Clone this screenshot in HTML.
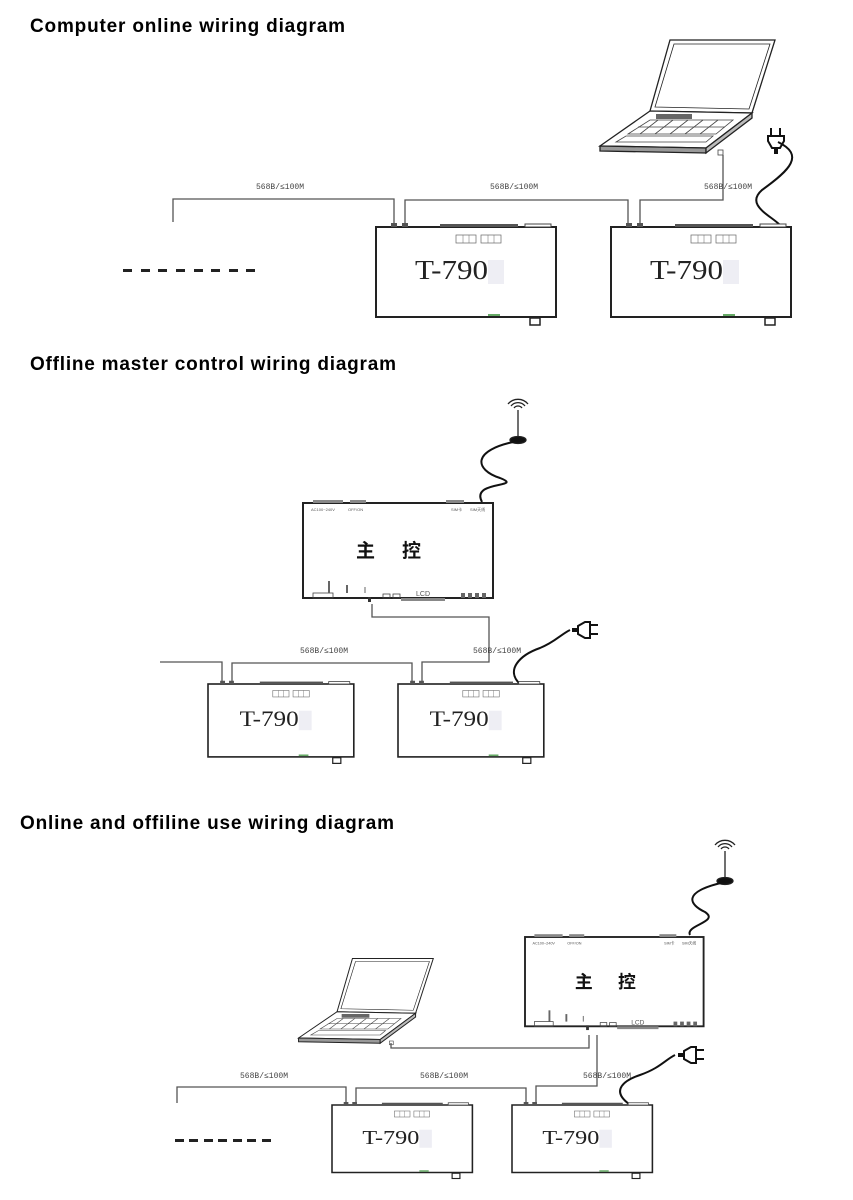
<!DOCTYPE html>
<html><head><meta charset="utf-8"><style>
html,body{margin:0;padding:0;background:#fff;}
svg{display:block;}
.t{font-family:"Liberation Sans",sans-serif;font-weight:bold;font-size:19px;fill:#000;}
.lb{font-family:"Liberation Mono",monospace;font-size:8px;fill:#444;}
.dv{font-family:"Liberation Serif",serif;font-size:27px;fill:#222;}
.zk{font-family:"Liberation Sans","Noto Sans CJK SC",sans-serif;font-size:19px;font-weight:bold;fill:#111;}
.sm{font-family:"Liberation Sans",sans-serif;font-size:4px;fill:#555;}
</style></head><body>
<svg width="853" height="1200" viewBox="0 0 853 1200" xmlns="http://www.w3.org/2000/svg">
<defs>
<g id="dev">
  <rect x="0" y="0" width="180" height="90" fill="#fff" stroke="#222" stroke-width="2"/>
  <rect x="15" y="-4" width="6" height="4" fill="#555"/>
  <rect x="26" y="-4" width="6" height="4" fill="#555"/>
  <rect x="64" y="-3" width="78" height="3" fill="#555"/>
  <rect x="149" y="-3" width="26" height="3" fill="#fff" stroke="#444" stroke-width="1"/>
  <rect x="80" y="8" width="20" height="8" fill="none" stroke="#666" stroke-width="0.7"/>
  <rect x="105" y="8" width="20" height="8" fill="none" stroke="#666" stroke-width="0.7"/>
  <line x1="87" y1="8" x2="87" y2="16" stroke="#666" stroke-width="0.5"/><line x1="93" y1="8" x2="93" y2="16" stroke="#666" stroke-width="0.5"/>
  <line x1="112" y1="8" x2="112" y2="16" stroke="#666" stroke-width="0.5"/><line x1="118" y1="8" x2="118" y2="16" stroke="#666" stroke-width="0.5"/>
  <rect x="112" y="87" width="12" height="2" fill="#6a6"/>
  <rect x="154" y="91" width="10" height="7" fill="#fff" stroke="#222" stroke-width="1.5"/>
  <rect x="112" y="33" width="16" height="24" fill="#eeeef4"/>
  <text x="39" y="52" class="dv" textLength="73" lengthAdjust="spacingAndGlyphs">T-790</text>
</g>
<g id="main">
  <rect x="0" y="0" width="190" height="95" fill="#fff" stroke="#222" stroke-width="2"/>
  <rect x="10" y="-3" width="30" height="3" fill="#888"/>
  <rect x="47" y="-3" width="16" height="3" fill="#888"/>
  <rect x="143" y="-3" width="18" height="3" fill="#888"/>
  <text x="8" y="8" class="sm">AC100~240V</text><text x="45" y="8" class="sm">OFF/ON</text>
  <text x="148" y="8" class="sm">SIM卡</text><text x="167" y="8" class="sm">SIM天线</text>
  <text x="53" y="54" class="zk">主</text><text x="99" y="54" class="zk">控</text>
  <rect x="10" y="90" width="20" height="5" fill="none" stroke="#444" stroke-width="0.8"/>
  <rect x="65" y="94" width="3" height="5" fill="#333"/>
  <rect x="80" y="91" width="7" height="4" fill="none" stroke="#444" stroke-width="0.8"/>
  <rect x="90" y="91" width="7" height="4" fill="none" stroke="#444" stroke-width="0.8"/>
  <rect x="98" y="95" width="44" height="3" fill="#888"/>
  <text x="113" y="93" class="sm" style="font-size:7px">LCD</text>
  <rect x="158" y="90" width="4" height="5" fill="#666"/><rect x="165" y="90" width="4" height="5" fill="#666"/><rect x="172" y="90" width="4" height="5" fill="#666"/><rect x="179" y="90" width="4" height="5" fill="#666"/>
  <line x1="26" y1="78" x2="26" y2="90" stroke="#666" stroke-width="2"/>
  <line x1="44" y1="82" x2="44" y2="90" stroke="#666" stroke-width="2"/>
  <line x1="62" y1="84" x2="62" y2="90" stroke="#666" stroke-width="1"/>
</g>
<g id="lap" fill="#fff" stroke="#222" stroke-width="1.3">
  <polygon points="72,2 177,2 154,75 52,73"/>
  <polygon points="76,6 172,6 151,71 57,69" fill="none" stroke-width="0.8"/>
  <polygon points="52,73 154,75 108,110 2,108"/>
  <polygon points="2,108 108,110 108,115 2,113" fill="#999"/>
  <polygon points="108,110 154,75 154,80 108,115" fill="#bbb"/>
  <rect x="58" y="76" width="36" height="5" fill="#666" stroke="none"/>
  <g stroke="#444" stroke-width="0.8" fill="none">
   <polygon points="52,82 135,82 118,96 30,96"/>
   <polygon points="28,98 115,98 108,104 18,104"/>
   <line x1="40" y1="89" x2="127" y2="89"/>
   <line x1="60" y1="82" x2="42" y2="96"/><line x1="75" y1="82" x2="57" y2="96"/><line x1="90" y1="82" x2="72" y2="96"/><line x1="105" y1="82" x2="87" y2="96"/><line x1="120" y1="82" x2="102" y2="96"/>
  </g>
  <rect x="120" y="112" width="5" height="5" fill="#fff" stroke="#444" stroke-width="0.8"/>
</g>
<g id="plug" fill="#111">
  <rect x="-6" y="-20" width="2" height="8"/><rect x="3" y="-20" width="2" height="8"/>
  <path d="M-8,-12 h16 v5 l-4,7 h-8 l-4,-7z" fill="none" stroke="#111" stroke-width="2"/>
  <rect x="-2" y="0" width="4" height="6"/>
</g>
<g id="ant" fill="none" stroke="#222" stroke-width="1.3">
  <line x1="0" y1="0" x2="0" y2="28"/>
  <path d="M-4,-2 a5,5 0 0 1 8,0"/><path d="M-7,-4 a9,9 0 0 1 14,0"/><path d="M-10,-6 a13,13 0 0 1 20,0"/>
  <ellipse cx="0" cy="30" rx="8" ry="3.5" fill="#111"/>
</g>
</defs>

<text x="30" y="32" class="t" textLength="315">Computer online wiring diagram</text>
<text x="30" y="370" class="t" textLength="366">Offline master control wiring diagram</text>
<text x="20" y="829" class="t" textLength="374">Online and offiline use wiring diagram</text>

<!-- Diagram 1 -->
<use href="#lap" x="598" y="38"/>
<g fill="none" stroke="#555" stroke-width="1.3">
<polyline points="173,222 173,199 394,199 394,224"/>
<polyline points="405,224 405,200 628,200 628,224"/>
<polyline points="640,224 640,200 723,200 723,155"/>
</g>
<path d="M780,225 C770,215 745,205 762,190 C790,170 805,155 778,142" fill="none" stroke="#111" stroke-width="2"/>
<use href="#plug" x="776" y="148"/>
<use href="#dev" x="376" y="227"/>
<use href="#dev" x="611" y="227"/>
<text x="256" y="189" class="lb">568B/≤100M</text>
<text x="490" y="189" class="lb">568B/≤100M</text>
<text x="704" y="189" class="lb">568B/≤100M</text>
<g fill="#222"><rect x="123" y="269" width="9" height="3"/><rect x="141" y="269" width="9" height="3"/><rect x="158" y="269" width="9" height="3"/><rect x="176" y="269" width="9" height="3"/><rect x="194" y="269" width="9" height="3"/><rect x="211" y="269" width="9" height="3"/><rect x="229" y="269" width="9" height="3"/><rect x="246" y="269" width="9" height="3"/></g>

<!-- Diagram 2 -->
<use href="#ant" x="518" y="410"/>
<path d="M518,441 C470,450 475,470 500,478 C525,488 470,480 482,502" fill="none" stroke="#111" stroke-width="2"/>
<use href="#main" x="303" y="503"/>
<g fill="none" stroke="#555" stroke-width="1.3">
<polyline points="372,604 372,617 489,617 489,662 422,662 422,682"/>
<polyline points="160,662 222,662 222,682"/>
<polyline points="232,682 232,663 412,663 412,682"/>
</g>
<path d="M520,684 C505,670 520,655 540,648 C555,642 560,635 570,630" fill="none" stroke="#111" stroke-width="2"/>
<use href="#plug" transform="translate(578,630) rotate(90)"/>
<g transform="translate(208,684) scale(0.81)"><use href="#dev"/></g>
<g transform="translate(398,684) scale(0.81)"><use href="#dev"/></g>
<text x="300" y="653" class="lb">568B/≤100M</text>
<text x="473" y="653" class="lb">568B/≤100M</text>

<!-- Diagram 3 -->
<use href="#ant" x="725" y="851"/>
<path d="M725,882 C680,892 690,905 705,912 C720,922 685,925 690,935" fill="none" stroke="#111" stroke-width="2"/>
<g transform="translate(525,937) scale(0.94)"><use href="#main"/></g>
<g transform="translate(297,957) scale(0.77,0.75)"><use href="#lap"/></g>
<g fill="none" stroke="#555" stroke-width="1.3">
<polyline points="589,1035 589,1048 391,1048 391,1043"/>
<polyline points="597,1035 597,1086 536,1086 536,1103"/>
<polyline points="177,1103 177,1087 346,1087 346,1103"/>
<polyline points="356,1103 356,1088 526,1088 526,1103"/>
</g>
<path d="M629,1104 C610,1090 625,1080 640,1075 C660,1068 665,1060 675,1055" fill="none" stroke="#111" stroke-width="2"/>
<use href="#plug" transform="translate(684,1055) rotate(90)"/>
<g transform="translate(332,1105) scale(0.78,0.75)"><use href="#dev"/></g>
<g transform="translate(512,1105) scale(0.78,0.75)"><use href="#dev"/></g>
<text x="240" y="1078" class="lb">568B/≤100M</text>
<text x="420" y="1078" class="lb">568B/≤100M</text>
<text x="583" y="1078" class="lb">568B/≤100M</text>
<g fill="#222"><rect x="175" y="1139" width="9" height="3"/><rect x="189" y="1139" width="9" height="3"/><rect x="204" y="1139" width="9" height="3"/><rect x="218" y="1139" width="9" height="3"/><rect x="233" y="1139" width="9" height="3"/><rect x="247" y="1139" width="9" height="3"/><rect x="262" y="1139" width="9" height="3"/></g>
</svg>
</body></html>
